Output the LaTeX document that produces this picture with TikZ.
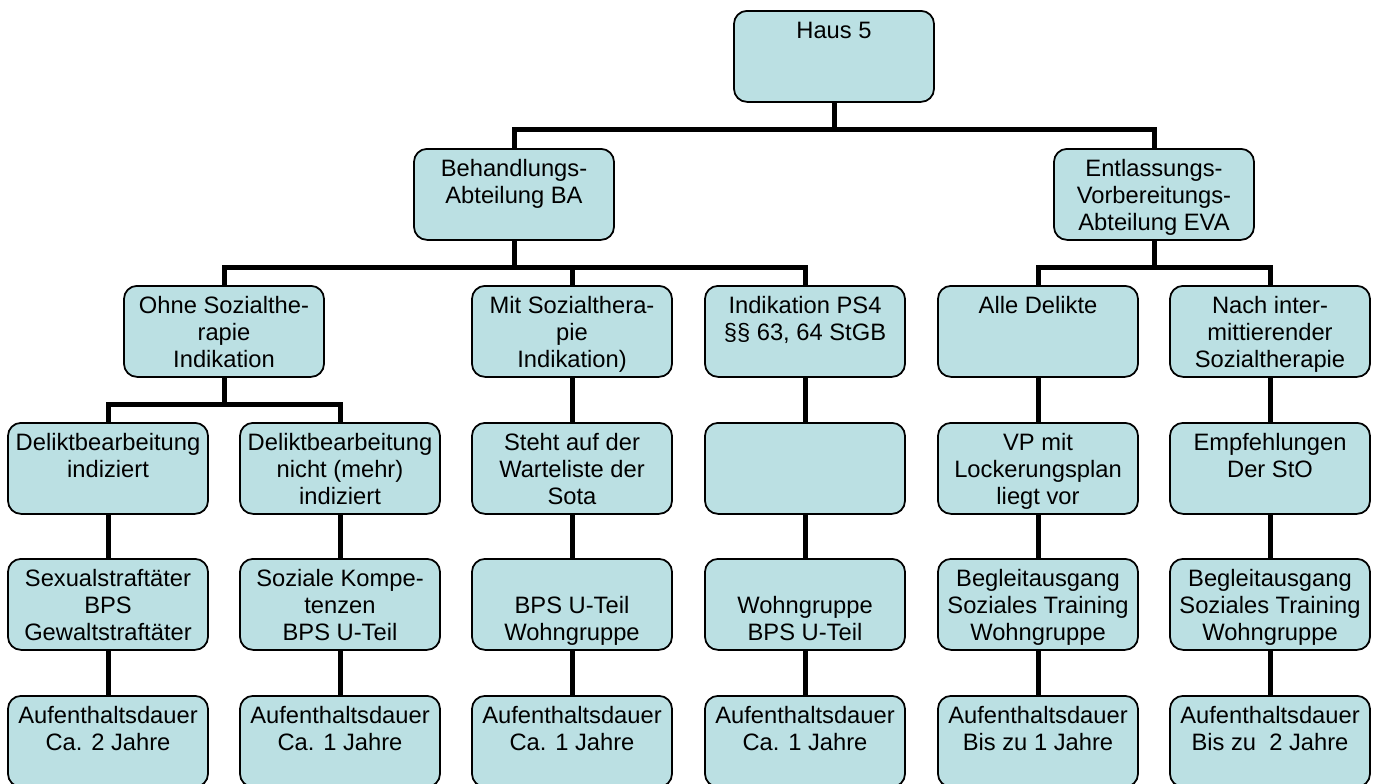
\documentclass[tikz,border=0pt]{standalone}
\usepackage{fontspec}
\setmainfont{Liberation Sans}

\definecolor{boxblue}{RGB}{187,224,227}
\newcommand{\orgtext}[1]{\parbox[t][1.82cm][t]{4cm}{\centering\rule{0pt}{15.6pt}#1}}

\tikzset{
  orgbox/.style={draw, line width=1pt, fill=boxblue, rounded corners=0.26cm,
    inner sep=0pt, anchor=north, font=\fontsize{13.5}{15.4}\selectfont},
  link/.style={line width=0.1cm}
}

\begin{document}
\begin{tikzpicture}
\path[use as bounding box, clip] (0,0) rectangle (27.56,-15.66);
%\draw[gray] (0,-16) grid (28,0);

% top
\node[orgbox] (haus) at (16.68,-0.2) {\orgtext{Haus 5}};
\node[orgbox] (ba) at (10.28,-2.96) {\orgtext{Behandlungs-\\Abteilung BA}};
\node[orgbox] (eva) at (23.08,-2.96) {\orgtext{Entlassungs-\\Vorbereitungs-\\Abteilung EVA}};

% third row
\node[orgbox] (ohne) at (4.48,-5.70) {\orgtext{Ohne Sozialthe-\\rapie\\Indikation}};
\node[orgbox] (mit) at (11.44,-5.70) {\orgtext{Mit Sozialthera-\\pie\\Indikation)}};
\node[orgbox] (ps4) at (16.10,-5.70) {\orgtext{Indikation PS4\\§§ 63, 64 StGB}};
\node[orgbox] (alle) at (20.76,-5.70) {\orgtext{Alle Delikte}};
\node[orgbox] (nach) at (25.40,-5.70) {\orgtext{Nach inter-\\mittierender\\Sozialtherapie}};

% fourth row
\node[orgbox] (dind) at (2.16,-8.44) {\orgtext{Deliktbearbeitung\\indiziert}};
\node[orgbox] (dnicht) at (6.80,-8.44) {\orgtext{Deliktbearbeitung\\nicht (mehr)\\indiziert}};
\node[orgbox] (steht) at (11.44,-8.44) {\orgtext{Steht auf der\\Warteliste der\\Sota}};
\node[orgbox] (leer) at (16.10,-8.44) {\orgtext{}};
\node[orgbox] (vp) at (20.76,-8.44) {\orgtext{VP mit\\Lockerungsplan\\liegt vor}};
\node[orgbox] (empf) at (25.40,-8.44) {\orgtext{Empfehlungen\\Der StO}};

% fifth row
\node[orgbox] (sexual) at (2.16,-11.16) {\orgtext{Sexualstraftäter\\BPS\\Gewaltstraftäter}};
\node[orgbox] (sozial) at (6.80,-11.16) {\orgtext{Soziale Kompe-\\tenzen\\BPS U-Teil}};
\node[orgbox] (bpsu) at (11.44,-11.16) {\orgtext{\\BPS U-Teil\\Wohngruppe}};
\node[orgbox] (wohn) at (16.10,-11.16) {\orgtext{\\Wohngruppe\\BPS U-Teil}};
\node[orgbox] (beglA) at (20.76,-11.16) {\orgtext{Begleitausgang\\Soziales Training\\Wohngruppe}};
\node[orgbox] (beglB) at (25.40,-11.16) {\orgtext{Begleitausgang\\Soziales Training\\Wohngruppe}};

% last row
\node[orgbox] (dauerA) at (2.16,-13.90) {\orgtext{Aufenthaltsdauer\\Ca. 2 Jahre}};
\node[orgbox] (dauerB) at (6.80,-13.90) {\orgtext{Aufenthaltsdauer\\Ca. 1 Jahre}};
\node[orgbox] (dauerC) at (11.44,-13.90) {\orgtext{Aufenthaltsdauer\\Ca. 1 Jahre}};
\node[orgbox] (dauerD) at (16.10,-13.90) {\orgtext{Aufenthaltsdauer\\Ca. 1 Jahre}};
\node[orgbox] (dauerE) at (20.76,-13.90) {\orgtext{Aufenthaltsdauer\\Bis zu 1 Jahre}};
\node[orgbox] (dauerF) at (25.40,-13.90) {\orgtext{Aufenthaltsdauer\\Bis zu\ \ 2 Jahre}};

% branches
\foreach \c in {ba,eva}
  \draw[link] (haus.south) -- ++(0,-0.54) -| (\c.north);
\foreach \c in {ohne,mit,ps4}
  \draw[link] (ba.south) -- ++(0,-0.54) -| (\c.north);
\foreach \c in {alle,nach}
  \draw[link] (eva.south) -- ++(0,-0.54) -| (\c.north);
\foreach \c in {dind,dnicht}
  \draw[link] (ohne.south) -- ++(0,-0.54) -| (\c.north);

% straight links
\foreach \a/\b in {mit/steht,ps4/leer,alle/vp,nach/empf,
    dind/sexual,dnicht/sozial,steht/bpsu,leer/wohn,vp/beglA,empf/beglB,
    sexual/dauerA,sozial/dauerB,bpsu/dauerC,wohn/dauerD,beglA/dauerE,beglB/dauerF}
  \draw[link] (\a.south) -- (\b.north);
\end{tikzpicture}
\end{document}
